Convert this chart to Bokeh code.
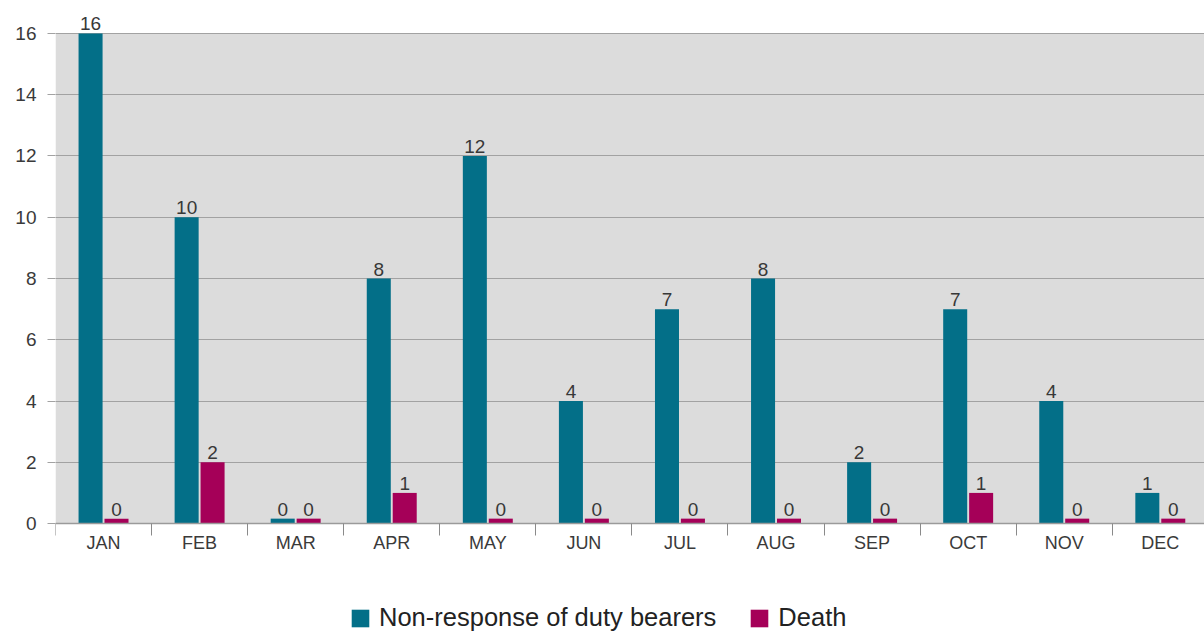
from bokeh.plotting import figure
from bokeh.models import Range1d, FixedTicker, ColumnDataSource, Legend, LegendItem, LabelSet
from bokeh.core.properties import value
from bokeh.embed import file_html
from bokeh.resources import INLINE

months = ["JAN", "FEB", "MAR", "APR", "MAY", "JUN", "JUL", "AUG", "SEP", "OCT", "NOV", "DEC"]
series_names = ["Non-response of duty bearers", "Death"]
nonresponse = [16, 10, 0, 8, 12, 4, 7, 8, 2, 7, 4, 1]
death = [0, 2, 0, 1, 0, 0, 0, 0, 0, 1, 0, 0]
yticks = [0, 2, 4, 6, 8, 10, 12, 14, 16]

TEAL = "#036f88"
MAGENTA = "#a50058"
ZERO_STUB = 0.16
OFFSET = 0.135
BAR_W = 0.25

n = len(months)
centers = [i + 0.5 for i in range(n)]

p = figure(width=1204, height=633,
           x_range=Range1d(0, 11.96), y_range=Range1d(-3.59, 16.75),
           output_backend="svg", toolbar_location=None,
           min_border_left=55, min_border_right=0, min_border_top=10, min_border_bottom=0,
           background_fill_color="white", border_fill_color="white", outline_line_color=None)

# grey plotting area
p.quad(left=0, right=n, bottom=yticks[0], top=yticks[-1], fill_color="#dcdcdc",
       line_color=None, level="image")

def series(vals, shift):
    return ColumnDataSource(dict(
        x=[c + shift for c in centers],
        top=[v if v > 0 else ZERO_STUB for v in vals],
        label=[str(v) for v in vals],
    ))

src1 = series(nonresponse, -OFFSET)
src2 = series(death, OFFSET)

r1 = p.vbar(x="x", top="top", bottom=0, width=BAR_W, source=src1, fill_color=TEAL, line_color=None)
r2 = p.vbar(x="x", top="top", bottom=0, width=BAR_W, source=src2, fill_color=MAGENTA, line_color=None)

for s in (src1, src2):
    p.add_layout(LabelSet(x="x", y="top", text="label", source=s, text_align="center",
                          text_baseline="alphabetic", y_offset=3,
                          text_font=value("Liberation Sans"),
                          text_font_size=value("19px"), text_color="#383838"))

# grid
p.xgrid.visible = False
p.ygrid.ticker = FixedTicker(ticks=yticks)
p.ygrid.grid_line_color = "#a2a2a2"
p.ygrid.grid_line_width = 1

# y axis
p.yaxis.ticker = FixedTicker(ticks=yticks)
p.yaxis.axis_line_color = None
p.yaxis.major_tick_out = 8
p.yaxis.major_tick_in = 0
p.yaxis.major_tick_line_color = "#a2a2a2"
p.yaxis.minor_tick_line_color = None
p.yaxis.major_label_standoff = 11
p.yaxis.major_label_text_font = "Liberation Sans"
p.yaxis.major_label_text_font_size = "19px"
p.yaxis.major_label_text_color = "#3a3a3a"

# x axis, fixed at y = 0 inside the frame
p.xaxis.fixed_location = 0
p.xaxis.ticker = FixedTicker(ticks=centers, minor_ticks=list(range(n + 1)))
p.xaxis.major_label_overrides = {c: m for c, m in zip(centers, months)}
p.xaxis.axis_line_color = "#9a9a9a"
p.xaxis.axis_line_width = 1.5
p.xaxis.major_tick_line_color = None
p.xaxis.major_tick_out = 0
p.xaxis.major_tick_in = 0
p.xaxis.minor_tick_in = 0
p.xaxis.minor_tick_out = 12
p.xaxis.minor_tick_line_color = "#8a8a8a"
p.xaxis.major_label_standoff = -3
p.xaxis.major_label_text_font = "Liberation Sans"
p.xaxis.major_label_text_font_size = "18px"
p.xaxis.major_label_text_color = "#3a3a3a"

legend = Legend(items=[LegendItem(label=series_names[0], renderers=[r1]),
                       LegendItem(label=series_names[1], renderers=[r2])],
                location=(294, 1), orientation="horizontal")
legend.glyph_width = 22
legend.glyph_height = 22
legend.label_standoff = 8
legend.spacing = 32
legend.padding = 0
legend.margin = 0
legend.border_line_color = None
legend.background_fill_alpha = 0
legend.label_text_font = "Liberation Sans"
legend.label_text_font_size = "25.5px"
legend.label_text_color = "#222222"
p.add_layout(legend, "center")

open("out.html", "w").write(file_html(p, INLINE))
